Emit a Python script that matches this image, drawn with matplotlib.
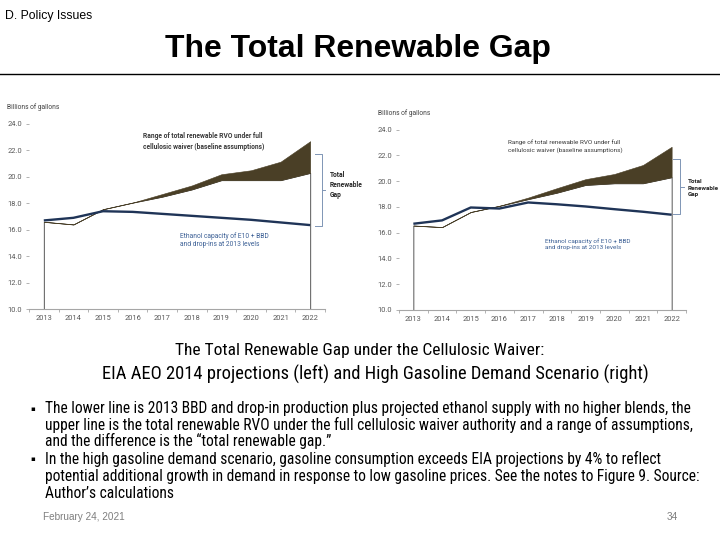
import matplotlib
matplotlib.use("Agg")
import matplotlib.pyplot as plt
from matplotlib import font_manager as fm
import numpy as np

# ---------------- data ----------------
years = ["2013", "2014", "2015", "2016", "2017", "2018", "2019", "2020", "2021", "2022"]

# Left chart: EIA AEO 2014 projections
left_rvo_low = [16.6, 16.4, 17.55, 18.05, 18.5, 19.05, 19.75, 19.75, 19.75, 20.3]
left_rvo_high = [16.6, 16.4, 17.55, 18.05, 18.7, 19.35, 20.2, 20.5, 21.15, 22.7]
left_ethanol = [16.7, 16.9, 17.4, 17.35, 17.2, 17.05, 16.9, 16.75, 16.55, 16.35]

# Right chart: High gasoline demand scenario
right_rvo_low = [16.55, 16.43, 17.6, 18.08, 18.6, 19.1, 19.7, 19.83, 19.83, 20.3]
right_rvo_high = [16.55, 16.43, 17.6, 18.08, 18.72, 19.45, 20.15, 20.55, 21.25, 22.66]
right_ethanol = [16.69, 16.95, 17.95, 17.87, 18.34, 18.2, 18.03, 17.82, 17.62, 17.39]

y_ticks = [10.0, 12.0, 14.0, 16.0, 18.0, 20.0, 22.0, 24.0]

bullet_lines_1 = [
    "The lower line is 2013 BBD and drop-in production plus projected ethanol supply with no higher blends, the",
    "upper line is the total renewable RVO under the full cellulosic waiver authority and a range of assumptions,",
    "and the difference is the \u201ctotal renewable gap.\u201d",
]
bullet_lines_2 = [
    "In the high gasoline demand scenario, gasoline consumption exceeds EIA projections by 4% to reflect",
    "potential additional growth in demand in response to low gasoline prices. See the notes to Figure 9. Source:",
    "Author\u2019s calculations",
]

# ---------------- fonts ----------------
names = {f.name for f in fm.fontManager.ttflist}
def pick(*cands):
    for c in cands:
        if c in names:
            return c
    return "DejaVu Sans"

NARROW = pick("Liberation Sans Narrow", "Roboto Condensed", "Open Sans Condensed", "Roboto", "Lato")
ARIAL = pick("Liberation Sans", "DejaVu Sans")
CHART = pick("Roboto", "Lato", "DejaVu Sans")

W, H = 720, 540
fig = plt.figure(figsize=(7.2, 5.4), dpi=100)
fig.patch.set_facecolor("white")

def P(x, y):
    return (x / W, 1 - y / H)

def ftext(x, y, s, **kw):
    fx, fy = P(x, y)
    return fig.text(fx, fy, s, **kw)

renderer = fig.canvas.get_renderer()
def fit(t, target):
    w = t.get_window_extent(renderer=renderer).width
    if w > 0:
        t.set_fontsize(t.get_fontsize() * target / w)

# ---------------- slide header ----------------
t = ftext(5, 16, "D. Policy Issues", fontsize=8, family=ARIAL, va="center", ha="left", color="black")
fit(t, 87)
t = ftext(358, 49, "The Total Renewable Gap", fontsize=20, family=ARIAL, weight="bold", va="center",
          ha="center", color="black")
fit(t, 385)
fig.add_artist(plt.Line2D([0, 1], [1 - 74 / H, 1 - 74 / H], color="black", lw=1.0, transform=fig.transFigure))

# ---------------- charts ----------------
BAND = "#4a3f26"
NAVY = "#1f3457"
AXIS = "#a6a6a6"
BLUE_TXT = "#3b5f95"

def make_chart(l, t_, r, b, low, high, eth):
    ax = fig.add_axes([l / W, 1 - b / H, (r - l) / W, (b - t_) / H])
    x = np.arange(len(years))
    ax.fill_between(x, 10, low, facecolor="white", edgecolor="#3a3a3a", lw=0.6, zorder=2)
    ax.fill_between(x, low, high, facecolor=BAND, edgecolor=BAND, lw=0.4, zorder=3)
    ax.plot(x, eth, color=NAVY, lw=1.7, zorder=4, solid_capstyle="butt")
    ax.set_xlim(-0.5, len(years) - 0.5)
    ax.set_ylim(10, 24)
    ax.set_yticks(y_ticks)
    ax.set_yticklabels([f"{v:.1f}" for v in y_ticks])
    ax.set_xticks(x)
    ax.set_xticklabels(years)
    ax.set_xticks(np.arange(-0.5, len(years) + 0.5, 1.0), minor=True)
    for s in ["top", "right", "left"]:
        ax.spines[s].set_visible(False)
    ax.spines["bottom"].set_color(AXIS)
    ax.spines["bottom"].set_linewidth(0.8)
    ax.tick_params(axis="x", which="major", length=0, pad=4, labelsize=5.4, labelcolor="#595959")
    ax.tick_params(axis="x", which="minor", length=2.5, width=0.6, color=AXIS, direction="out")
    ax.tick_params(axis="y", length=2, width=0.6, color=AXIS, pad=3, labelsize=5.4, labelcolor="#595959")
    for lab in ax.get_xticklabels() + ax.get_yticklabels():
        lab.set_family(CHART)
    ax.patch.set_alpha(0)
    return ax

def brace(ax, x0, x1, xt, ytop, ybot, ymid):
    ax.plot([x0, x1, x1, x0], [ytop, ytop, ybot, ybot], color="#7f95b5", lw=0.7, clip_on=False, zorder=5)
    ax.plot([x1, xt], [ymid, ymid], color="#7f95b5", lw=0.7, clip_on=False, zorder=5)

axL = make_chart(29, 124, 325, 309, left_rvo_low, left_rvo_high, left_ethanol)
brace(axL, 9.16, 9.40, 9.5, 21.73, 16.28, 19.0)
axR = make_chart(399, 129.5, 686, 310, right_rvo_low, right_rvo_high, right_ethanol)
brace(axR, 9.05, 9.29, 9.43, 21.71, 17.44, 19.54)

# chart annotations (pixel positions)
ftext(7, 107, "Billions of gallons", fontsize=4.8, family=CHART, va="center", ha="left", color="#404040")
ftext(378, 113, "Billions of gallons", fontsize=4.8, family=CHART, va="center", ha="left", color="#404040")

ftext(143, 141.5, "Range of total renewable RVO under full\ncellulosic waiver (baseline assumptions)",
      fontsize=4.8, family=CHART, weight="bold", va="center", ha="left", color="#3a3a3a", linespacing=1.35)
ftext(508, 146, "Range of total renewable RVO under full\ncellulosic waiver (baseline assumptions)",
      fontsize=4.6, family=CHART, va="center", ha="left", color="#3a3a3a", linespacing=1.35)

ftext(330, 185, "Total\nRenewable\nGap", fontsize=4.8, family=CHART, weight="bold", va="center", ha="left",
      color="#262626", linespacing=1.35)
ftext(688, 188, "Total\nRenewable\nGap", fontsize=4.5, family=CHART, weight="bold", va="center", ha="left",
      color="#262626", linespacing=1.35)

ftext(180, 240, "Ethanol capacity of E10 + BBD\nand drop-ins at 2013 levels", fontsize=4.8, family=CHART,
      va="center", ha="left", color=BLUE_TXT, linespacing=1.35)
ftext(545, 244, "Ethanol capacity of E10 + BBD\nand drop-ins at 2013 levels", fontsize=4.6, family=CHART,
      va="center", ha="left", color=BLUE_TXT, linespacing=1.35)

# ---------------- caption ----------------
t1 = ftext(360, 350, "The Total Renewable Gap under the Cellulosic Waiver:", fontsize=13, family=NARROW,
           va="center", ha="center", color="black")
fit(t1, 368)
t2 = ftext(375, 374, "EIA AEO 2014 projections (left) and High Gasoline Demand Scenario (right)", fontsize=13,
           family=NARROW, va="center", ha="center", color="black")
fit(t2, 543)

# ---------------- bullets ----------------
ys1 = [409, 425, 441]
ys2 = [459, 476, 493]
probe = ftext(45, 425, bullet_lines_1[1], fontsize=10, family=NARROW, va="center", ha="left")
fit(probe, 645)
fs_b = probe.get_fontsize()
probe.remove()
for ys, lines in ((ys1, bullet_lines_1), (ys2, bullet_lines_2)):
    ftext(30, ys[0], "\u25aa", fontsize=5, family="DejaVu Sans", va="center", ha="left", color="black")
    for yy, s in zip(ys, lines):
        ftext(45, yy, s, fontsize=fs_b, family=NARROW, va="center", ha="left", color="black")

# ---------------- footer ----------------
tf = ftext(43, 517, "February 24, 2021", fontsize=7, family=ARIAL, va="center", ha="left", color="#7f7f7f")
fit(tf, 81)
ftext(678, 517, "34", fontsize=tf.get_fontsize(), family=ARIAL, va="center", ha="right", color="#7f7f7f")

fig.savefig("out.png", dpi=100, facecolor="white")
